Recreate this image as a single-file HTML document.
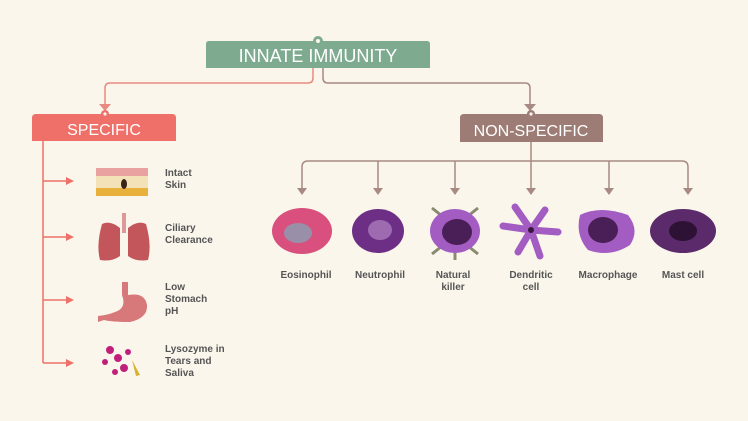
<!DOCTYPE html>
<html><head><style>
body{margin:0;background:#fbf6ec;}
svg{display:block}
text{font-family:"Liberation Sans",sans-serif;}
</style></head><body>
<svg width="748" height="421" viewBox="0 0 748 421" xmlns="http://www.w3.org/2000/svg">
<rect width="748" height="421" fill="#fbf6ec"/>
<!-- top connectors -->
<path d="M313 68 V78 Q313 83 308 83 H110 Q105 83 105 88 V106" fill="none" stroke="#e98a80" stroke-width="1.5"/>
<path d="M99 104 L111 104 L105 111 Z" fill="#e98a80"/>
<path d="M323 68 V78 Q323 83 328 83 H525 Q530 83 530 88 V106" fill="none" stroke="#a88a82" stroke-width="1.5"/>
<path d="M524 104 L536 104 L530 111 Z" fill="#a88a82"/>
<!-- title -->
<path d="M206 68 V44 Q206 41 209 41 H427 Q430 41 430 44 V68 Z" fill="#7eab8f"/>
<circle cx="318" cy="41" r="5" fill="#7eab8f"/><circle cx="318" cy="41" r="2" fill="#fbf6ec"/>
<text x="318" y="62" text-anchor="middle" font-size="18" fill="#fff">INNATE IMMUNITY</text>
<!-- specific -->
<path d="M32 141 V118 Q32 114 36 114 H172 Q176 114 176 118 V141 Z" fill="#ee7068"/>
<circle cx="105" cy="114" r="4" fill="#ee7068"/><circle cx="105" cy="114" r="1.6" fill="#fbf6ec"/>
<text x="104" y="135" text-anchor="middle" font-size="16" fill="#fff">SPECIFIC</text>
<path d="M43 141 V363 M43 181 H68 M43 237 H68 M43 300 H68 M43 363 H68" fill="none" stroke="#ee7068" stroke-width="1.5"/>
<g fill="#ee7068"><path d="M66 177 L74 181 L66 185Z"/><path d="M66 233 L74 237 L66 241Z"/><path d="M66 296 L74 300 L66 304Z"/><path d="M66 359 L74 363 L66 367Z"/></g>
<!-- nonspecific -->
<path d="M460 142 V118 Q460 114 464 114 H599 Q603 114 603 118 V142 Z" fill="#9c7c74"/>
<circle cx="531" cy="114" r="4" fill="#9c7c74"/><circle cx="531" cy="114" r="1.6" fill="#fbf6ec"/>
<text x="531" y="136" text-anchor="middle" font-size="16" fill="#fff">NON-SPECIFIC</text>
<g fill="none" stroke="#a88a82" stroke-width="1.5">
<path d="M531 142 V190"/>
<path d="M302 190 V167 Q302 161 308 161 H682 Q688 161 688 167 V190"/>
<path d="M378 161 V190 M455 161 V190 M609 161 V190"/>
</g>
<g fill="#a88a82"><path d="M297 188 L307 188 L302 195Z"/><path d="M373 188 L383 188 L378 195Z"/><path d="M450 188 L460 188 L455 195Z"/><path d="M526 188 L536 188 L531 195Z"/><path d="M604 188 L614 188 L609 195Z"/><path d="M683 188 L693 188 L688 195Z"/></g>
<!-- cells -->
<ellipse cx="302" cy="231" rx="30" ry="23" fill="#d9507e"/><ellipse cx="298" cy="233" rx="14" ry="10" fill="#9a8fa8"/>
<ellipse cx="378" cy="231" rx="26" ry="22" fill="#6d2f86"/><ellipse cx="380" cy="230" rx="12" ry="10" fill="#9e6bb0"/>
<g stroke="#8a8a70" stroke-width="3"><path d="M432 208 L442 216 M478 208 L468 216 M432 254 L442 246 M478 254 L468 246 M455 260 V250"/></g>
<ellipse cx="455" cy="231" rx="25" ry="22" fill="#a35cc2"/><ellipse cx="457" cy="232" rx="15" ry="13" fill="#4a1f58"/>
<g stroke="#a35cc2" stroke-width="7" stroke-linecap="round" fill="none"><path d="M531 230 L515 207 M531 230 L545 210 M531 230 L558 232 M531 230 L518 252 M531 230 L540 256 M531 230 L503 226"/></g>
<circle cx="531" cy="230" r="3" fill="#3a1540"/>
<path d="M580 215 Q600 205 628 215 Q640 230 630 245 Q610 258 588 250 Q575 235 580 215Z" fill="#a35cc2"/><ellipse cx="603" cy="230" rx="15" ry="13" fill="#4a1f58"/>
<ellipse cx="683" cy="231" rx="33" ry="22" fill="#5a2a6a"/><ellipse cx="683" cy="231" rx="14" ry="10" fill="#2e1236"/>
<g font-size="10" fill="#555" font-weight="bold" text-anchor="middle">
<text x="306" y="278">Eosinophil</text>
<text x="380" y="278">Neutrophil</text>
<text x="453" y="278">Natural</text><text x="453" y="290">killer</text>
<text x="531" y="278">Dendritic</text><text x="531" y="290">cell</text>
<text x="608" y="278">Macrophage</text>
<text x="683" y="278">Mast cell</text>
</g>
<!-- left icons -->
<rect x="96" y="168" width="52" height="8" fill="#e9a2a0"/><rect x="96" y="176" width="52" height="12" fill="#f3e1b8"/><rect x="96" y="188" width="52" height="8" fill="#e7b13c"/>
<ellipse cx="124" cy="184" rx="3" ry="5" fill="#3a2218"/>
<path d="M102 224 Q96 245 100 260 Q112 262 120 256 L120 228 Q110 220 102 224Z M146 224 Q152 245 148 260 Q136 262 128 256 L128 228 Q138 220 146 224Z" fill="#c3565a"/>
<rect x="122" y="213" width="4" height="20" fill="#d99"/>
<path d="M128 282 V295 Q145 292 147 305 Q148 318 130 322 Q112 322 104 320 L98 322 L98 316 Q108 315 115 312 Q127 308 122 295 V282Z" fill="#d7797a"/>
<g fill="#c0207a"><circle cx="110" cy="350" r="4"/><circle cx="118" cy="358" r="4"/><circle cx="105" cy="362" r="3"/><circle cx="124" cy="368" r="4"/><circle cx="115" cy="372" r="3"/><circle cx="128" cy="352" r="3"/></g>
<path d="M132 360 L140 375 L136 376Z" fill="#d8b030"/>
<g font-size="10" fill="#555" font-weight="bold">
<text x="165" y="176">Intact</text><text x="165" y="188">Skin</text>
<text x="165" y="231">Ciliary</text><text x="165" y="243">Clearance</text>
<text x="165" y="290">Low</text><text x="165" y="302">Stomach</text><text x="165" y="314">pH</text>
<text x="165" y="352">Lysozyme in</text><text x="165" y="364">Tears and</text><text x="165" y="376">Saliva</text>
</g>
</svg>
</body></html>
